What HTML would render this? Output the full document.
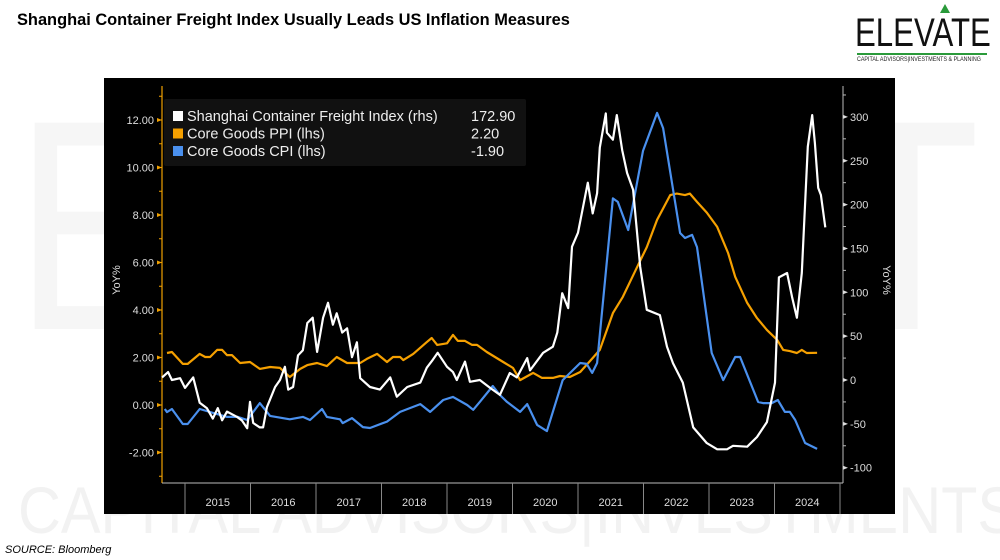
<!DOCTYPE html>
<html><head><meta charset="utf-8"><style>
body{margin:0;width:1000px;height:560px;background:#fff;position:relative;overflow:hidden;font-family:"Liberation Sans",sans-serif}
#wmwrap{position:absolute;left:0;top:0;width:1000px;height:560px;overflow:hidden}
.wm{position:absolute;color:#f6f6f6;font-family:"Liberation Sans",sans-serif;white-space:nowrap}
</style></head><body>
<div id="wmwrap">
<div class="wm" style="left:15px;top:60px;font-size:300px;line-height:330px;letter-spacing:20px;transform:scaleX(0.8);transform-origin:left">ELEVATE</div>
<div class="wm" style="left:18px;top:470px;font-size:66px;line-height:80px;color:#f2f2f2;transform:scaleX(0.9);transform-origin:left">CAPITAL ADVISORS|INVESTMENTS &amp; PLANNING</div>
</div>
<div style="position:absolute;left:17px;top:11px;font-size:16.4px;font-weight:bold;color:#000;white-space:nowrap">Shanghai Container Freight Index Usually Leads US Inflation Measures</div>
<div style="position:absolute;left:5px;top:544px;font-size:11px;font-style:italic;color:#000">SOURCE: Bloomberg</div>
<div style="position:absolute;left:855px;top:13px;width:135px;height:55px;overflow:hidden">
 <div style="font-size:40px;line-height:40px;color:#111;transform:scaleX(0.78);transform-origin:left;white-space:nowrap">ELEVATE</div>
 <div style="position:absolute;left:2px;top:40px;width:130px;height:2px;background:#2a9a3a"></div>
 <div style="position:absolute;left:2px;top:43px;font-size:6.3px;color:#222;white-space:nowrap;transform:scaleX(0.85);transform-origin:left">CAPITAL ADVISORS|INVESTMENTS &amp; PLANNING</div>
</div>
<div style="position:absolute;left:940px;top:4px;width:0;height:0;border-left:5px solid transparent;border-right:5px solid transparent;border-bottom:9px solid #2a9a3a"></div>
<svg id="chart" width="1000" height="560" style="position:absolute;left:0;top:0">
<rect x="104" y="78" width="791" height="436" fill="#000"/>
<g id="axes"></g><g id="series"></g><g id="legend"></g>
</svg>
<script>
const ticksL=[-2,0,2,4,6,8,10,12];
const ticksR=[-100,-50,0,50,100,150,200,250,300];
const years=["2015","2016","2017","2018","2019","2020","2021","2022","2023","2024"];
// month index from Jan 2015
const cpiM=[-3.7,-3.3,-2.4,-0.4,0.5,2.7,7.7,9.7,11.4,13.7,15.6,19.2,21.6,22.9,25.1,26,28.4,28.9,30.6,32.6,33.9,37,39.4,43.1,44.9,47.3,49.1,51.7,52.8,54,56.4,57.7,59,61.4,62.7,64.5,66.3,69.2,72.4,73.6,74.6,75.5,78.4,79.3,81.2,83.9,86.5,87.6,90.7,91.6,92.9,93.8,96.5,98.6,100.8,101.7,105,105.9,107.5,108.6,109.9,110.8,111.8,113.6,115.8];
const cpiV=[-0.17,-0.3,-0.17,-0.8,-0.8,-0.17,-0.5,-0.5,-0.63,0.08,-0.46,-0.6,-0.5,-0.63,-0.17,-0.5,-0.6,-0.76,-0.55,-0.93,-0.97,-0.7,-0.29,0.04,-0.29,0.21,0.34,0,-0.2,0.13,0.8,0.42,0.13,-0.29,0.04,-0.84,-1.1,1.05,1.77,1.73,1.35,1.77,8.7,8.55,7.37,10.7,12.3,11.66,7.24,7.03,7.16,6.65,2.19,1.05,2.02,2.02,0.13,0.08,0.08,0.21,-0.29,-0.29,-0.63,-1.6,-1.85];
const ppiM=[-3.3,-2.4,-0.4,0.5,2.7,3.7,4.6,5.9,6.8,7.7,8.6,10.1,11.9,13.7,15.6,17.4,19.2,21.1,22.4,24.2,26,27.8,29.7,32.1,33.3,35.2,37,38.1,39.4,40,41.8,44.3,45.2,46.2,48,49.1,50,51.3,52.6,53.5,55.3,58.3,60.1,61.4,63.8,65.4,67.4,68.7,70.5,72.4,74.7,76,78.4,80.2,82.8,84.6,86.5,88.9,90.1,91.6,92.5,93.8,95.6,97.5,99.5,100.8,103,104.8,106.6,108.5,109.6,110.8,112.1,113,113.9,115.8];
const ppiV=[2.19,2.23,1.73,1.73,2.15,2.02,2.02,2.32,2.32,2.1,2.1,1.77,1.81,1.52,1.6,1.56,1.18,1.52,1.68,1.77,1.64,2.02,1.77,1.77,1.94,2.15,1.81,2.02,2.02,1.89,2.15,2.65,2.82,2.53,2.6,2.95,2.7,2.7,2.53,2.53,2.23,1.81,1.56,1.05,1.35,1.14,1.14,1.22,1.18,1.39,1.98,2.32,3.87,4.55,5.8,6.65,7.8,8.84,8.9,8.84,8.9,8.55,8.1,7.5,6.4,5.4,4.3,3.66,3.16,2.74,2.32,2.27,2.19,2.32,2.19,2.2];
const scfiM=[-4.2,-3.1,-2.4,-0.9,0,1.5,2.7,4,5.1,6,6.8,7.7,9.5,10.4,11.4,11.9,12.5,13.7,14.3,15,16.5,17.4,18.3,18.9,19.8,20.7,21.6,22.4,23.4,24.2,25.3,26.2,27.1,27.8,28.8,29.7,30.6,31.5,32.1,33.9,35.7,37.6,38.8,40.7,43.1,44.3,45.4,46.3,48,49.1,49.8,51.3,52.2,54,55.9,57.7,59.5,60.8,62.7,63.2,65.6,67.4,68.2,69.1,70.2,70.9,72,73.8,74.7,75.5,76,77.1,77.3,78.4,79.1,80.1,81,82.1,83.4,84.6,87,88.3,89.4,91.2,93.1,95.6,97.5,99.3,100.4,103,104.8,106.6,108.1,108.8,110.3,111.2,112.1,113,114.1,114.9,115.4,116,116.5,117.3];
const scfiV=[3,9,0,2,-9,3,-26,-32,-44,-32,-46,-36,-42,-46,-55,-25,-49,-54,-54,-31,-8,0,15,-11,-8,28,34,65,71,32,71,88,63,76,54,59,26,43,2,-8,-11,3,-19,-8,-3,14,23,31,15,9,0,21,-2,0,-9,-17,8,3,25,11,31,38,54,99,82,152,168,225,190,213,265,304,282,274,302,262,236,217,129,80,74,38,19,-3,-54,-72,-79,-79,-75,-76,-65,-48,-3,117,122,95,71,122,266,302,270,219,211,174];
const legendNames=["Shanghai Container Freight Index (rhs)","Core Goods PPI (lhs)","Core Goods CPI (lhs)"];
const legendVals=["172.90","2.20","-1.90"];

const NS="http://www.w3.org/2000/svg";
const L=162,R=843,T=78,B=483;
function xM(m){return 185+m*65.5/12;}
function yL(v){return 405-v*23.75;}
function yR(v){return 380-v*0.877;}
function mk(tag,attrs,parent,txt){const e=document.createElementNS(NS,tag);for(const k in attrs)e.setAttribute(k,attrs[k]);if(txt!==undefined)e.textContent=txt;parent.appendChild(e);return e;}
const ax=document.getElementById('axes');
let e;
e=mk('line',{x1:L,y1:86,x2:L,y2:B,stroke:'#f0a000','stroke-width':1.2},ax);


e=mk('line',{x1:R,y1:86,x2:R,y2:B,stroke:'#bbb','stroke-width':1},ax);


e=mk('line',{x1:L,y1:B,x2:R,y2:B,stroke:'#bbb','stroke-width':1},ax);


for(let v=-3;v<=13;v++){mk('line',{x1:L-3,y1:yL(v),x2:L,y2:yL(v),stroke:'#f0a000'},ax);}
ticksL.forEach(v=>{
 mk('polygon',{points:`${L-5},${yL(v)-2} ${L},${yL(v)} ${L-5},${yL(v)+2}`,fill:'#f0a000'},ax);
 e=mk('text',{x:L-8,y:yL(v)+4,'text-anchor':'end','font-size':11,fill:'#ddd'},ax,v.toFixed(2));
 
 
});
for(let v=-100;v<=325;v+=25){mk('line',{x1:R,y1:yR(v),x2:R+3,y2:yR(v),stroke:'#bbb'},ax);}
ticksR.forEach(v=>{
 mk('polygon',{points:`${R},${yR(v)-2} ${R+5},${yR(v)} ${R},${yR(v)+2}`,fill:'#ddd'},ax);
 e=mk('text',{x:R+7,y:yR(v)+4,'font-size':11,fill:'#ddd'},ax,v===0?"0":(v<0?"-"+(-v):String(v)));
 
 
});
e=mk('text',{transform:`translate(120,280) rotate(-90)`,'text-anchor':'middle','font-size':11,fill:'#ddd'},ax,'YoY%');


e=mk('text',{transform:`translate(883,280) rotate(90)`,'text-anchor':'middle','font-size':11,fill:'#ddd'},ax,'YoY%');


for(let i=0;i<=years.length;i++){
 const x=xM(i*12);
 if(x<=R+1){mk('line',{x1:x,y1:B,x2:x,y2:514,stroke:'#888'},ax);}
}
years.forEach((y,i)=>{
 e=mk('text',{x:xM(i*12+6),y:506,'text-anchor':'middle','font-size':11,fill:'#ddd'},ax,y);
 
 
});
const sg=document.getElementById('series');
function line(ms,vs,yf,col,name){
 const d=ms.map((m,i)=>(i?'L':'M')+xM(m).toFixed(1)+','+yf(vs[i]).toFixed(1)).join('');
 const p=mk('path',{d:d,fill:'none',stroke:col,'stroke-width':2.2,'stroke-linejoin':'round'},sg);
 
 
}
line(ppiM,ppiV,yL,'#f5a000','core-goods-ppi-line');
line(cpiM,cpiV,yL,'#4a90ee','core-goods-cpi-line');
line(scfiM,scfiV,yR,'#ffffff','scfi-line');
const lg=document.getElementById('legend');
e=mk('rect',{x:164,y:99,width:362,height:67,rx:2,fill:'#111'},lg);


const cols=['#ffffff','#f5a000','#4a90ee'];
legendNames.forEach((n,i)=>{
 const y=121+i*17.5;
 e=mk('rect',{x:173,y:y-10,width:10,height:10,fill:cols[i]},lg);
 
 
 e=mk('text',{x:187,y:y,'font-size':14.5,fill:'#eee'},lg,n);
 
 
 e=mk('text',{x:471,y:y,'font-size':14.5,fill:'#eee'},lg,legendVals[i]);
 
 
});
</script>
</body></html>
